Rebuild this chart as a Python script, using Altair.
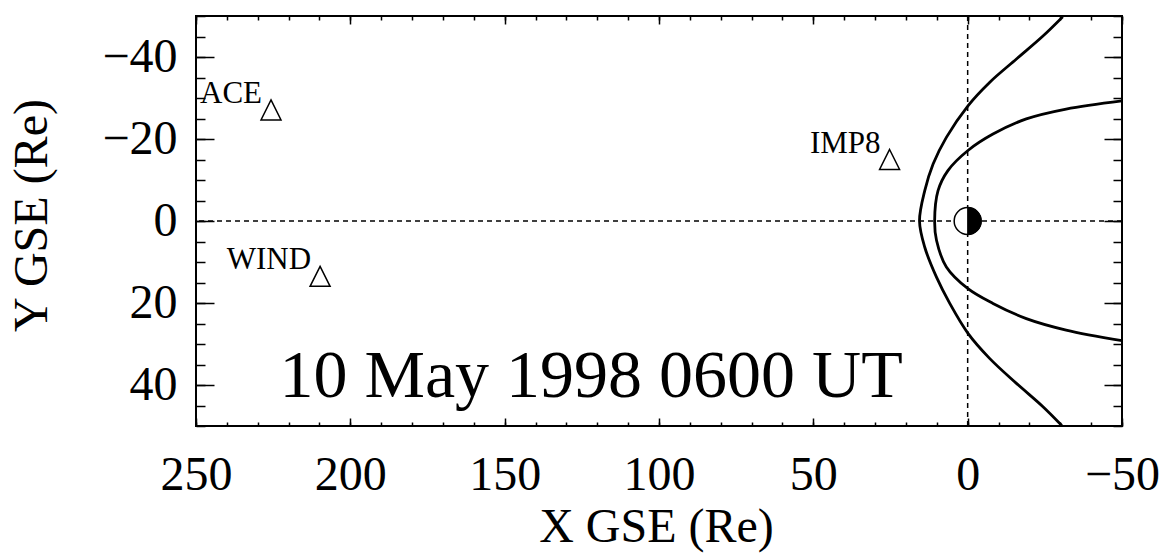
import altair as alt
import pandas as pd

# ---- data ----
bs_x = [-30.8, -24.4, -15.8, -7.1, -0.1, 6.9, 11.2, 13.9, 15.6, 13.9, 10.1, 5.8, -0.1, -7.1, -15.8, -24.4, -30.5]
bs_y = [-49.8, -45.1, -39.5, -33.8, -28.1, -20.4, -13.9, -7.4, 0.0, 6.4, 13.7, 20.1, 27.4, 33.5, 39.6, 45.3, 49.9]
mp_x = [-50.0, -31.9, -19.0, -8.2, -0.1, 6.4, 9.6, 10.7, 10.1, 6.9, -0.1, -8.2, -19.0, -31.9, -50.0]
mp_y = [-29.3, -27.3, -24.9, -21.2, -17.2, -12.3, -7.4, 0.0, 4.7, 11.2, 16.5, 20.1, 23.8, 26.6, 29.2]

sat_names = ["ACE", "WIND", "IMP8"]
sat_x = [225.7, 209.8, 25.3]
sat_y = [-27.1, 13.5, -15.0]

earth_x = [0.0]
earth_y = [0.0]

title_text = ["10 May 1998 0600 UT"]
title_x = [122.0]
title_y = [42.9]

x_domain = [-50, 250]
y_domain = [-50, 50]
x_major = [250, 200, 150, 100, 50, 0, -50]
x_minor = list(range(-50, 251, 10))
y_major = [-40, -20, 0, 20, 40]
y_minor = list(range(-50, 51, 5))
zero_line = [0.0]

FONT = "Liberation Serif"

xs = alt.Scale(domain=x_domain, reverse=True, nice=False, zero=False)
ys = alt.Scale(domain=y_domain, reverse=True, nice=False, zero=False)

curves = pd.DataFrame(
    {"x": bs_x + mp_x,
     "y": bs_y + mp_y,
     "curve": ["bow shock"] * len(bs_x) + ["magnetopause"] * len(mp_x),
     "order": list(range(len(bs_x))) + list(range(len(mp_x)))}
)
sats = pd.DataFrame({"name": sat_names, "x": sat_x, "y": sat_y})
earth = pd.DataFrame({"x": earth_x, "y": earth_y})
ann = pd.DataFrame({"t": title_text, "x": title_x, "y": title_y})
frame = pd.DataFrame({"x": x_domain, "y": y_domain})
zl = pd.DataFrame({"v": zero_line})


def axis_layer(xax, yax):
    return alt.Chart(frame).mark_point(opacity=0).encode(
        x=alt.X("x:Q", scale=xs, axis=xax),
        y=alt.Y("y:Q", scale=ys, axis=yax),
    )


def tick_axis(orient, values, size):
    # ticks pointing inward: shift the axis into the plot by its tick length
    return alt.Axis(orient=orient, values=values, tickSize=size, offset=-size,
                    labels=False, domain=False, grid=False, title="",
                    tickColor="black", tickWidth=1.5)


label_layer = axis_layer(
    alt.Axis(orient="bottom", values=x_major, ticks=False, domain=False, grid=False,
             labelFont=FONT, labelFontSize=48, labelColor="black", labelBaseline="top",
             labelPadding=25, labelFlush=False, labelOverlap=False, format="d",
             title="X GSE (Re)", titleFont=FONT, titleFontSize=48, titleFontWeight="normal",
             titleColor="black", titleX=460, titleY=101.5, titleBaseline="middle",
             titleAlign="center", titleAngle=0),
    alt.Axis(orient="left", values=y_major, ticks=False, domain=False, grid=False,
             labelFont=FONT, labelFontSize=48, labelColor="black", labelAlign="right",
             labelBaseline="middle", labelPadding=19, labelFlush=False, labelOverlap=False,
             format="d",
             title="Y GSE (Re)", titleFont=FONT, titleFontSize=48, titleFontWeight="normal",
             titleColor="black", titleX=-164, titleY=199, titleBaseline="middle",
             titleAlign="center", titleAngle=270),
)
maj_bl = axis_layer(tick_axis("bottom", x_major, 8), tick_axis("left", y_major, 18))
min_bl = axis_layer(tick_axis("bottom", x_minor, 4), tick_axis("left", y_minor, 9))
maj_tr = axis_layer(tick_axis("top", x_major, 8), tick_axis("right", y_major, 18))
min_tr = axis_layer(tick_axis("top", x_minor, 4), tick_axis("right", y_minor, 9))

hline = alt.Chart(zl).mark_rule(color="black", strokeWidth=1.5, strokeDash=[5, 4]).encode(
    y=alt.Y("v:Q", scale=ys, axis=None))
vline = alt.Chart(zl).mark_rule(color="black", strokeWidth=1.5, strokeDash=[5, 4]).encode(
    x=alt.X("v:Q", scale=xs, axis=None))

lines = alt.Chart(curves).mark_line(color="black", strokeWidth=2.8, clip=True,
                                    interpolate="catmull-rom").encode(
    x=alt.X("x:Q", scale=xs, axis=None),
    y=alt.Y("y:Q", scale=ys, axis=None),
    detail="curve:N",
    order="order:Q",
)

tri = alt.Chart(sats).mark_point(
    shape="M0,-1L1,1L-1,1Z", size=400, filled=False, color="black", strokeWidth=1.5, opacity=1
).encode(x=alt.X("x:Q", scale=xs, axis=None), y=alt.Y("y:Q", scale=ys, axis=None))

sat_text = alt.Chart(sats).mark_text(
    font=FONT, fontSize=31, color="black", align="right", baseline="alphabetic", dx=-9, dy=-7
).encode(x=alt.X("x:Q", scale=xs, axis=None), y=alt.Y("y:Q", scale=ys, axis=None), text="name:N")

earth_c = alt.Chart(earth).mark_point(
    shape="circle", size=729, filled=True, fill="white", stroke="black", strokeWidth=1.5, opacity=1
).encode(x=alt.X("x:Q", scale=xs, axis=None), y=alt.Y("y:Q", scale=ys, axis=None))
earth_n = alt.Chart(earth).mark_point(
    shape="M0,-1A1,1,0,0,1,0,1Z", size=729, filled=True, fill="black", stroke="black",
    strokeWidth=1, opacity=1
).encode(x=alt.X("x:Q", scale=xs, axis=None), y=alt.Y("y:Q", scale=ys, axis=None))

big_text = alt.Chart(ann).mark_text(
    font=FONT, fontSize=68, color="black", align="center", baseline="alphabetic"
).encode(x=alt.X("x:Q", scale=xs, axis=None), y=alt.Y("y:Q", scale=ys, axis=None), text="t:N")

chart = alt.layer(
    label_layer, maj_bl, min_bl, maj_tr, min_tr,
    hline, vline, lines, tri, sat_text, earth_c, earth_n, big_text,
).resolve_axis(x="independent", y="independent").properties(
    width=926, height=410,
    padding={"left": 196, "top": 16, "right": 46, "bottom": 128},
    autosize=alt.AutoSizeParams(type="none"),
    background="white",
).configure_view(stroke="black", strokeWidth=2)

chart.save("out.html", embed_options={"renderer": "svg", "actions": False})
